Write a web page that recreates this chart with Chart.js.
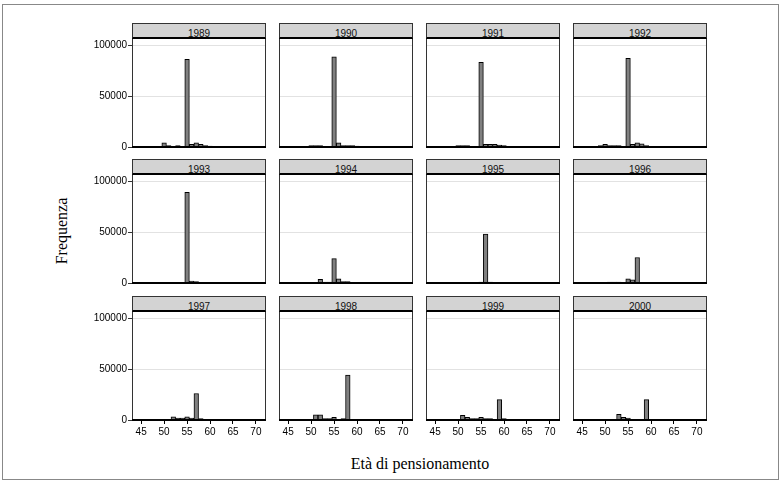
<!DOCTYPE html>
<html>
<head>
<meta charset="utf-8">
<script src="https://cdn.jsdelivr.net/npm/chart.js@4/dist/chart.umd.min.js"></script>
<style>
  body { margin: 0; background: #fff; }
  #fig { position: relative; width: 782px; height: 483px; overflow: hidden; font-family: 'Liberation Sans', Arial, sans-serif; }
  .frame { position: absolute; left: 2px; top: 4px; width: 777px; height: 476px; border: 1px solid #888; box-sizing: border-box; }
  .strip { position: absolute; height: 16px; box-sizing: border-box; background: #d3d3d3; border: 1px solid #333; border-bottom: 2px solid #000; font-size: 10px; line-height: 10px; padding-top: 5px; text-align: center; color: #111; overflow: hidden; }
  .panel { position: absolute; }
  .title { position: absolute; font-family: 'Liberation Serif', 'Times New Roman', serif; font-size: 16px; color: #000; white-space: nowrap; }
</style>
</head>
<body>
<div id="fig">
  <div class="frame"></div>
  <div class="title" id="ytitle">Frequenza</div>
  <div class="title" id="xtitle">Età di pensionamento</div>
</div>
<script>
// retirement age bins (one-year wide) and counts per year
const years = [1989, 1990, 1991, 1992, 1993, 1994, 1995, 1996, 1997, 1998, 1999, 2000];
const ages = [49, 50, 51, 52, 53, 54, 55, 56, 57, 58, 59, 60];

const f1989 = [0, 4000, 1500, 0, 1500, 500, 86000, 2500, 4000, 2500, 1500, 1000];
const f1990 = [0, 1500, 1500, 1500, 0, 0, 88500, 4000, 1500, 1500, 1500, 1000];
const f1991 = [0, 1500, 1500, 1500, 0, 0, 83000, 2500, 2500, 2500, 2000, 1500];
const f1992 = [1500, 2500, 1500, 1500, 1500, 0, 87000, 2500, 4000, 3000, 1500, 0];
const f1993 = [0, 0, 0, 0, 0, 0, 89000, 2000, 1500, 0, 0, 0];
const f1994 = [0, 0, 0, 3500, 1000, 1000, 24000, 4000, 1500, 1500, 0, 0];
const f1995 = [0, 0, 0, 0, 0, 0, 1000, 48000, 1000, 0, 0, 0];
const f1996 = [0, 0, 1000, 1000, 1000, 0, 4000, 3000, 25000, 0, 0, 0];
const f1997 = [0, 0, 0, 3000, 2000, 2000, 3000, 2000, 26000, 1500, 0, 0];
const f1998 = [0, 0, 5000, 5000, 1500, 1500, 2500, 500, 1500, 44000, 0, 0];
const f1999 = [0, 0, 4500, 2500, 1500, 1500, 2500, 1500, 1500, 0, 20000, 1500];
const f2000 = [0, 0, 0, 0, 5500, 2500, 2000, 0, 0, 0, 20000, 0];

const counts = [f1989, f1990, f1991, f1992, f1993, f1994, f1995, f1996, f1997, f1998, f1999, f2000];

const xTicks = [45, 50, 55, 60, 65, 70];
const yTicks = [0, 50000, 100000];

// panel grid geometry
const colLeft = [132, 279, 426, 573];
const rowTop = [39, 175, 312];
const panelW = 134;
const plotH = 108;
const AXW = 50;   // room for y labels
const AXH = 22;   // room for x labels
const PAD = 2;

const fig = document.getElementById('fig');

const yt = document.getElementById('ytitle');
yt.style.left = '62px';
yt.style.top = '231px';
yt.style.transform = 'translate(-50%, -50%) rotate(-90deg)';
const xt = document.getElementById('xtitle');
xt.style.left = '420px';
xt.style.top = '464px';
xt.style.transform = 'translate(-50%, -50%)';

// box around each panel, thick base line
const panelFrame = {
  id: 'panelFrame',
  afterDatasetsDraw(chart) {
    const { ctx, chartArea: a } = chart;
    ctx.save();
    ctx.strokeStyle = '#333';
    ctx.lineWidth = 1;
    ctx.beginPath();
    ctx.moveTo(a.left + 0.5, a.top);
    ctx.lineTo(a.left + 0.5, a.bottom);
    ctx.moveTo(a.right - 0.5, a.top);
    ctx.lineTo(a.right - 0.5, a.bottom);
    ctx.stroke();
    ctx.fillStyle = '#000';
    ctx.fillRect(a.left, a.bottom - 1, a.right - a.left, 2);
    ctx.restore();
  }
};

const tickFont = { family: "'Liberation Sans', Arial, sans-serif", size: 10 };

years.forEach((year, i) => {
  const r = Math.floor(i / 4), c = i % 4;
  const firstCol = c === 0;
  const lastRow = r === 2;

  const strip = document.createElement('div');
  strip.className = 'strip';
  strip.style.left = colLeft[c] + 'px';
  strip.style.top = (rowTop[r] - 16) + 'px';
  strip.style.width = panelW + 'px';
  strip.textContent = year;
  fig.appendChild(strip);

  const canvas = document.createElement('canvas');
  canvas.className = 'panel';
  const w = AXW + panelW + PAD, h = PAD + plotH + AXH;
  canvas.width = w;
  canvas.height = h;
  canvas.style.left = (colLeft[c] - AXW) + 'px';
  canvas.style.top = (rowTop[r] - PAD) + 'px';
  canvas.style.width = w + 'px';
  canvas.style.height = h + 'px';
  fig.appendChild(canvas);

  new Chart(canvas, {
    type: 'bar',
    data: {
      datasets: [{
        data: ages.map((a, k) => ({ x: a, y: counts[i][k] })),
        backgroundColor: '#808080',
        borderColor: '#000',
        borderWidth: 1,
        categoryPercentage: 1,
        barPercentage: 1
      }]
    },
    options: {
      responsive: false,
      animation: false,
      events: [],
      layout: { padding: { top: PAD, right: PAD, left: 0, bottom: 0 } },
      plugins: { legend: { display: false }, tooltip: { enabled: false } },
      scales: {
        x: {
          type: 'linear',
          min: 43,
          max: 72.2,
          offset: false,
          afterBuildTicks: s => { s.ticks = xTicks.map(v => ({ value: v })); },
          afterFit: s => { s.height = AXH; s.paddingLeft = 0; s.paddingRight = 0; },
          grid: { offset: false, drawOnChartArea: false, drawTicks: lastRow, tickLength: 4, tickColor: '#000' },
          border: { display: false },
          ticks: { display: lastRow, padding: 2, color: '#000', font: tickFont, maxRotation: 0, autoSkip: false }
        },
        y: {
          min: 0,
          max: 106000,
          afterBuildTicks: s => { s.ticks = yTicks.map(v => ({ value: v })); },
          afterFit: s => { s.width = AXW; s.paddingTop = 0; s.paddingBottom = 0; },
          grid: { color: '#e2e2e2', lineWidth: 1, drawTicks: firstCol, tickLength: 4, tickColor: '#333' },
          border: { display: false },
          ticks: { display: firstCol, padding: 1, color: '#000', font: tickFont, callback: v => String(v) }
        }
      }
    },
    plugins: [panelFrame]
  });
});
</script>
</body>
</html>
